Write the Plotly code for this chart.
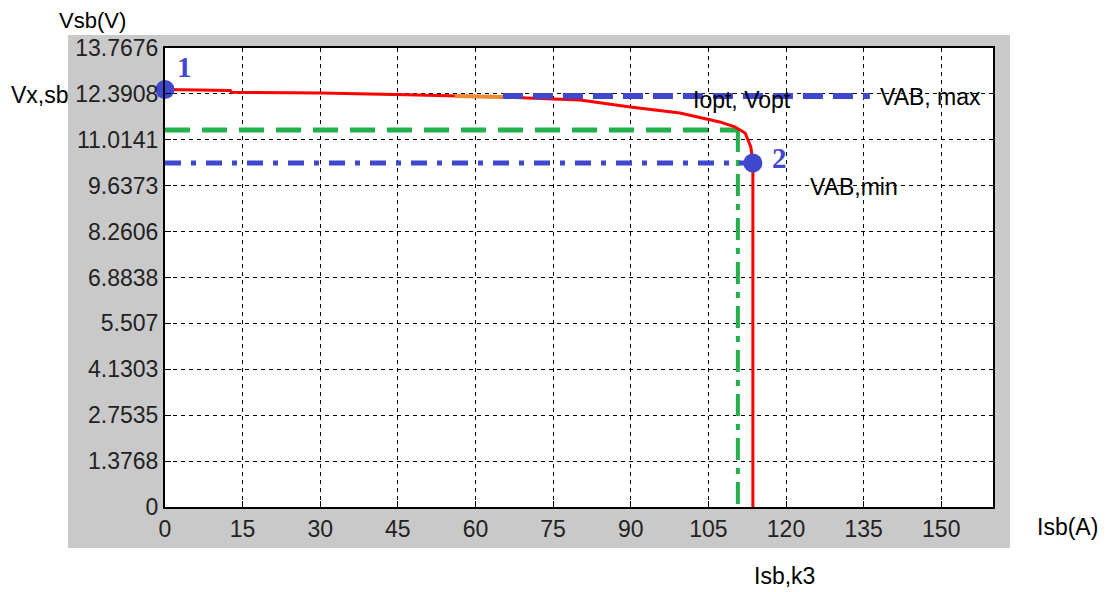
import plotly.graph_objects as go

# ---- data ----
curve_x = [0, 12.6, 12.9, 30, 44.4, 56, 65.3, 80.2, 89.9, 99.5, 107.2, 110.1, 112.1, 113.2, 113.6, 113.6]
curve_y = [12.52, 12.49, 12.44, 12.42, 12.37, 12.33, 12.30, 12.21, 12.0, 11.82, 11.55, 11.40, 11.22, 10.80, 10.32, 0]

opt_x = [56, 65.3]
opt_y = [12.33, 12.30]

vab_max_x = [65.3, 136.2]
vab_max_y = [12.33, 12.33]

green_h_x = [0, 110.7]
green_h_y = [11.31, 11.31]
green_v_x = [110.7, 110.7]
green_v_y = [11.31, 0]

vab_min_x = [0, 113.6]
vab_min_y = [10.32, 10.32]

points_x = [0, 113.6]
points_y = [12.52, 10.32]

x_ticks = [0, 15, 30, 45, 60, 75, 90, 105, 120, 135, 150]
y_ticks = [0, 1.3768, 2.7535, 4.1303, 5.507, 6.8838, 8.2606, 9.6373, 11.0141, 12.3908, 13.7676]
y_tick_text = ["0", "1.3768", "2.7535", "4.1303", "5.507", "6.8838", "8.2606", "9.6373", "11.0141", "12.3908", "13.7676"]

BLUE = "#3f48cc"
GREEN = "#22b14c"

fig = go.Figure()

fig.add_trace(go.Scatter(x=green_h_x, y=green_h_y, mode="lines",
                         line=dict(color=GREEN, width=5, dash="25px,12px"), hoverinfo="skip"))
fig.add_trace(go.Scatter(x=green_v_x, y=green_v_y, mode="lines",
                         line=dict(color=GREEN, width=4, dash="22px,8px,6px,8px"), hoverinfo="skip"))
fig.add_trace(go.Scatter(x=vab_min_x, y=vab_min_y, mode="lines",
                         line=dict(color=BLUE, width=5, dash="16px,10px,5px,10px"), hoverinfo="skip"))
fig.add_trace(go.Scatter(x=curve_x, y=curve_y, mode="lines",
                         line=dict(color="red", width=3), hoverinfo="skip"))
fig.add_trace(go.Scatter(x=opt_x, y=opt_y, mode="lines",
                         line=dict(color="#f08a30", width=4), hoverinfo="skip"))
fig.add_trace(go.Scatter(x=vab_max_x, y=vab_max_y, mode="lines",
                         line=dict(color=BLUE, width=6, dash="20px,10px"), hoverinfo="skip"))
fig.add_trace(go.Scatter(x=points_x, y=points_y, mode="markers", cliponaxis=False,
                         marker=dict(color=BLUE, size=19), hoverinfo="skip"))

# plot area in window pixels (page has an 8px body margin)
OFF = 8
L, R, T, B = 165, 993, 48, 507
W, H = 1113 - OFF, 592 - OFF


def px(p):
    return (p - L) / (R - L)


def py(p):
    return (B - p) / (B - T)


fig.add_shape(type="rect", xref="paper", yref="paper", layer="below",
              x0=px(68), x1=px(1010), y0=py(548), y1=py(35),
              fillcolor="#c9c9c9", line=dict(width=0))
fig.add_shape(type="rect", xref="paper", yref="paper", layer="below",
              x0=0, x1=1, y0=0, y1=1, fillcolor="white", line=dict(width=0))

txt_font = dict(family="Liberation Sans, Arial, sans-serif", size=23, color="black")
top_font = dict(family="Liberation Sans, Arial, sans-serif", size=22, color="black")
num_font = dict(family="Liberation Serif, Times New Roman, serif", size=29, color=BLUE)

annotations = [
    ("Vsb(V)", 92, 21, "center", top_font),
    ("Vx,sb", 40, 95, "center", txt_font),
    ("Iopt, Vopt", 742, 100, "center", txt_font),
    ("VAB, max", 930, 97, "center", txt_font),
    ("VAB,min", 854, 187, "center", txt_font),
    ("Isb(A)", 1067, 527, "center", txt_font),
    ("Isb,k3", 784, 576, "center", txt_font),
    ("<b>1</b>", 184, 67, "center", num_font),
    ("<b>2</b>", 779, 158, "center", num_font),
]
for text, ax_, ay_, xa, font in annotations:
    fig.add_annotation(text=text, xref="paper", yref="paper", x=px(ax_), y=py(ay_),
                       xanchor=xa, yanchor="middle", showarrow=False, font=font)

tick_font = dict(family="Liberation Sans, Arial, sans-serif", size=23, color="#222222")

fig.update_xaxes(range=[0, 160], tickvals=x_ticks, ticktext=[str(v) for v in x_ticks],
                 showgrid=True, gridcolor="black", gridwidth=1, griddash="4px,4px",
                 zeroline=False, showline=True, linecolor="black", linewidth=2, mirror=True,
                 ticks="inside", ticklen=6, tickcolor="black", tickfont=tick_font)
fig.update_yaxes(range=[0, 13.7676], tickvals=y_ticks, ticktext=y_tick_text,
                 showgrid=True, gridcolor="black", gridwidth=1, griddash="4px,4px",
                 zeroline=False, showline=True, linecolor="black", linewidth=2, mirror=True,
                 ticks="inside", ticklen=6, tickcolor="black", tickfont=tick_font)

fig.update_layout(width=W, height=H, showlegend=False,
                  margin=dict(l=L - OFF, r=W - (R - OFF), t=T - OFF, b=H - (B - OFF)),
                  paper_bgcolor="white", plot_bgcolor="white")

fig.write_html("out.html")
